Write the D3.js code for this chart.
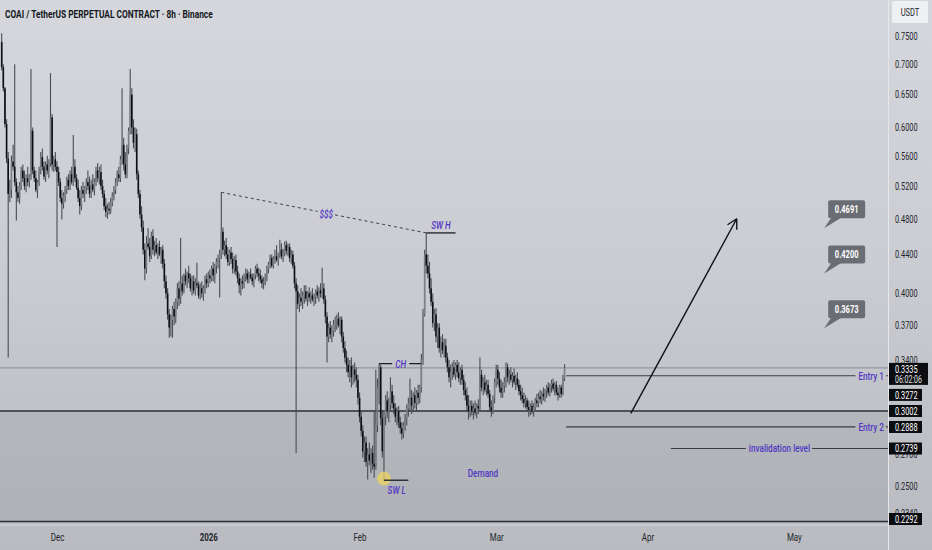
<!DOCTYPE html>
<html><head><meta charset="utf-8">
<script src="https://cdn.jsdelivr.net/npm/d3@7"></script>
<style>html,body{margin:0;padding:0;overflow:hidden;background:#c8cacf}</style>
</head><body>
<svg id="c" width="932" height="550"></svg>
<script>
// ---------------- DATA ----------------
const title = "COAI / TetherUS PERPETUAL CONTRACT · 8h · Binance";
const firstCandle = "2025-11-19T16:00:00Z";   // 8h candles
const open0 = 0.739;
const closes = [
.695,.660,.605,.556,.510,.515,.552,.545,.525,.512,.505,.520,.540,.530,.520,.530,.525,.532,.595,.540,
.530,.515,.525,.540,.558,.545,.532,.548,.540,.550,.615,.548,.555,.545,.538,.525,.505,.498,.508,.515,
.528,.520,.535,.525,.545,.530,.518,.505,.495,.515,.510,.518,.525,.520,.510,.522,.515,.525,.540,.530,
.538,.520,.510,.495,.488,.492,.490,.500,.508,.515,.525,.535,.530,.555,.575,.548,.535,.570,.595,.650,
.600,.578,.590,.535,.510,.485,.470,.445,.425,.452,.448,.438,.460,.445,.450,.442,.448,.440,.445,.430,
.412,.400,.380,.368,.375,.385,.378,.392,.405,.395,.410,.402,.418,.412,.420,.415,.405,.412,.403,.410,
.408,.398,.405,.400,.405,.414,.410,.418,.415,.425,.418,.428,.432,.436,.440,.465,.445,.450,.440,.432,
.442,.435,.425,.434,.422,.415,.408,.412,.410,.418,.420,.414,.419,.416,.412,.418,.425,.420,.418,.414,
.410,.412,.416,.425,.430,.436,.428,.435,.438,.434,.440,.445,.438,.442,.450,.444,.448,.436,.440,.428,
.410,.402,.390,.396,.392,.398,.402,.395,.400,.396,.398,.394,.397,.402,.398,.403,.400,.405,.394,.378,
.360,.368,.362,.365,.371,.374,.376,.370,.375,.360,.350,.342,.336,.330,.335,.326,.332,.328,.324,.310,
.296,.286,.272,.278,.265,.270,.266,.271,.264,.262,.290,.318,.334,.295,.272,.296,.308,.300,.305,.315,
.306,.302,.296,.300,.292,.288,.284,.290,.295,.302,.306,.310,.304,.312,.306,.314,.310,.318,.340,.380,
.440,.428,.420,.405,.392,.372,.380,.360,.368,.350,.355,.348,.352,.342,.334,.326,.330,.334,.328,.336,
.330,.325,.332,.324,.316,.312,.304,.300,.304,.300,.302,.299,.304,.302,.328,.318,.322,.316,.320,.313,
.303,.300,.310,.322,.332,.325,.318,.314,.319,.322,.334,.326,.328,.324,.327,.322,.325,.320,.315,.312,
.309,.306,.308,.303,.301,.304,.300,.303,.308,.306,.311,.309,.313,.311,.315,.318,.314,.319,.321,.317,
.320,.314,.312,.318,.313,.325,.3335];
const highs = [
.755,.700,.662,.612,.565,.528,.560,.575,.700,.530,.520,.525,.545,.548,.540,.535,.545,.535,.692,.600,
.545,.540,.528,.545,.565,.570,.552,.552,.560,.555,.685,.620,.560,.565,.552,.545,.530,.515,.512,.520,
.532,.535,.540,.545,.589,.555,.535,.528,.515,.520,.525,.520,.530,.540,.532,.528,.535,.530,.545,.550,
.545,.548,.528,.515,.505,.498,.500,.505,.512,.520,.530,.540,.545,.560,.660,.585,.565,.575,.600,.692,
.660,.612,.600,.598,.540,.515,.495,.478,.452,.460,.469,.458,.465,.468,.455,.458,.452,.455,.448,.450,
.435,.418,.405,.385,.380,.388,.392,.395,.410,.412,.458,.418,.420,.425,.422,.428,.420,.418,.418,.415,
.431,.412,.410,.412,.408,.418,.420,.422,.424,.428,.432,.430,.436,.440,.445,.512,.470,.455,.458,.448,
.445,.448,.442,.438,.440,.428,.420,.415,.418,.420,.425,.424,.422,.425,.420,.420,.428,.430,.426,.424,
.418,.416,.420,.428,.432,.440,.440,.438,.445,.450,.442,.456,.452,.446,.454,.455,.452,.452,.445,.444,
.432,.415,.408,.400,.405,.402,.408,.408,.402,.406,.402,.405,.400,.404,.408,.406,.410,.426,.410,.398,
.382,.372,.374,.370,.375,.378,.380,.382,.378,.378,.364,.356,.348,.342,.340,.342,.336,.338,.334,.328,
.314,.300,.290,.282,.282,.274,.278,.274,.276,.300,.332,.325,.337,.336,.300,.300,.312,.315,.310,.326,
.320,.312,.306,.303,.304,.296,.292,.292,.298,.305,.310,.325,.316,.314,.318,.316,.320,.320,.345,.385,
.445,.4637,.440,.432,.415,.400,.385,.386,.372,.372,.360,.362,.358,.358,.346,.340,.336,.338,.340,.338,
.340,.338,.334,.336,.328,.322,.318,.312,.308,.308,.306,.308,.306,.309,.342,.332,.326,.328,.324,.324,
.316,.308,.312,.325,.336,.336,.330,.324,.322,.326,.338,.337,.332,.334,.330,.333,.328,.330,.324,.320,
.318,.314,.312,.310,.308,.306,.308,.306,.310,.313,.314,.316,.315,.318,.317,.320,.322,.321,.324,.325,
.322,.323,.318,.320,.320,.328,.3365];
const lows = [
.690,.655,.600,.550,.342,.500,.505,.540,.520,.478,.500,.498,.515,.525,.515,.512,.520,.518,.528,.535,
.525,.512,.505,.520,.535,.540,.528,.525,.535,.530,.545,.540,.538,.540,.448,.520,.500,.479,.492,.500,
.510,.515,.515,.522,.520,.525,.515,.500,.485,.490,.505,.500,.510,.515,.505,.505,.512,.508,.520,.525,
.522,.515,.505,.490,.482,.480,.485,.486,.495,.502,.510,.520,.525,.525,.548,.540,.530,.530,.562,.590,
.590,.570,.565,.528,.505,.480,.465,.440,.413,.420,.445,.432,.435,.440,.438,.440,.435,.438,.430,.425,
.405,.395,.375,.359,.360,.359,.370,.372,.385,.388,.390,.398,.400,.408,.405,.410,.402,.398,.400,.398,
.405,.395,.394,.396,.393,.400,.405,.406,.410,.412,.412,.410,.420,.425,.396,.435,.440,.438,.435,.428,
.428,.430,.420,.420,.418,.410,.400,.398,.404,.405,.412,.410,.410,.414,.408,.406,.414,.416,.412,.410,
.405,.404,.408,.412,.420,.425,.426,.425,.430,.432,.428,.436,.435,.432,.438,.440,.438,.432,.430,.425,
.405,.271,.385,.382,.388,.385,.390,.392,.388,.392,.390,.392,.388,.390,.395,.392,.396,.395,.390,.372,
.338,.355,.358,.355,.360,.364,.366,.368,.362,.355,.346,.338,.330,.326,.322,.318,.320,.322,.318,.305,
.292,.282,.268,.265,.262,.254,.263,.258,.260,.255,.260,.285,.305,.290,.268,.2535,.290,.295,.292,.300,
.302,.298,.292,.290,.288,.284,.280,.281,.286,.290,.296,.300,.298,.300,.302,.300,.305,.306,.314,.336,
.378,.420,.415,.400,.388,.368,.365,.355,.350,.346,.342,.345,.342,.338,.330,.322,.318,.324,.326,.324,
.326,.322,.320,.320,.312,.308,.300,.294,.296,.297,.294,.297,.295,.298,.300,.315,.312,.314,.312,.310,
.300,.296,.298,.306,.318,.320,.314,.310,.310,.314,.318,.322,.320,.322,.318,.320,.316,.318,.312,.308,
.306,.303,.302,.300,.296,.297,.298,.296,.300,.303,.303,.306,.305,.308,.307,.310,.312,.311,.314,.315,
.312,.312,.308,.310,.310,.312,.323];

const priceTicks = [0.75,0.70,0.65,0.60,0.56,0.52,0.48,0.44,0.40,0.37,0.34,0.27,0.25,0.234];
const timeTickDates = ["2025-12-01","2026-01-01","2026-02-01","2026-03-01","2026-04-01","2026-05-01"];
const timeTickLabels = ["Dec","2026","Feb","Mar","Apr","May"];
const levelNames  = ["current","entry1","demandTop","entry2","invalidation","demandBottom"];
const levelPrices = [0.3335,0.3272,0.3002,0.2888,0.2739,0.2292];
const countdown = "06:02:06";
const targetPrices = [0.4691,0.4200,0.3673];
const targetDate = "2026-05-07T05:00:00Z";
const arrowFrom = ["2026-03-28T14:00:00Z",0.2985];
const arrowTo   = ["2026-04-19T07:00:00Z",0.480];
const invalidationStart = "2026-04-05T19:00:00Z";
const demandLabel = ["2026-02-26T07:00:00Z",0.2580];
const swingLowMark = 0.2545;

// ---------------- LAYOUT ----------------
const W=932,H=550, PR=888, PB=524;
const DAY=864e5, H8=8*3600e3;
const anchor=Date.UTC(2025,11,1), pxDay=4.88, anchorX=57;
const x=d3.scaleUtc().domain([new Date(anchor-anchorX/pxDay*DAY), new Date(anchor+(PR-anchorX)/pxDay*DAY)]).range([0,PR]);
const y=d3.scaleLog().domain([0.2278,0.8189]).range([PB,0]);
const t0=Date.parse(firstCandle);
const candles=closes.map((c,i)=>({t:new Date(t0+i*H8),o:i?closes[i-1]:open0,h:highs[i],l:lows[i],c}));
const tIdx=i=>new Date(t0+i*H8);

const svg=d3.select('#c');
const defs=svg.append('defs');
const grad=defs.append('linearGradient').attr('id','bg').attr('x1',0).attr('y1',0).attr('x2',0).attr('y2',1);
[[0,'#d5d7dc'],[0.5,'#caccd1'],[0.75,'#c0c2c7'],[1,'#b9bbc0']].forEach(([o,c])=>grad.append('stop').attr('offset',o).attr('stop-color',c));
defs.append('clipPath').attr('id','pc').append('rect').attr('width',PR).attr('height',PB);
svg.append('rect').attr('width',W).attr('height',H).attr('fill','url(#bg)');

const FONT='Roboto, "Noto Sans", sans-serif';
function txt(g,xx,yy,s,o={}){
  return g.append('text')
    .attr('transform',`translate(${xx},${yy}) scale(${o.sx??0.78},1)`)
    .attr('text-anchor',o.anchor||'start').attr('dominant-baseline','central')
    .attr('font-family',o.family||FONT).attr('font-size',o.size||10)
    .attr('font-weight',o.weight||400).attr('font-style',o.style||'normal')
    .attr('fill',o.fill||'#1f2229').text(s);
}
const PURPLE='#5237c4';
const AS=10.5, AW=500;
const plot=svg.append('g').attr('clip-path','url(#pc)');
const L=n=>levelPrices[levelNames.indexOf(n)];

// demand zone
plot.append('rect').attr('x',0).attr('width',PR)
  .attr('y',y(L('demandTop'))).attr('height',y(L('demandBottom'))-y(L('demandTop')))
  .attr('fill','#8f9197').attr('opacity',0.24);

// full-width lines
plot.append('line').attr('x1',0).attr('x2',PR).attr('y1',y(L('current'))).attr('y2',y(L('current'))).attr('stroke','#7b7e85').attr('stroke-width',0.8);
['demandTop','demandBottom'].forEach(n=>{
  plot.append('line').attr('x1',0).attr('x2',PR).attr('y1',y(L(n))).attr('y2',y(L(n))).attr('stroke','#2b2e35').attr('stroke-width',1.6);
});

// candles
const cg=plot.append('g');
cg.selectAll('line.w').data(candles).join('line').attr('class','w')
  .attr('x1',d=>x(d.t)).attr('x2',d=>x(d.t)).attr('y1',d=>y(d.h)).attr('y2',d=>y(d.l))
  .attr('stroke','#4a4d54').attr('stroke-width',1.1);
cg.selectAll('rect.b').data(candles).join('rect').attr('class','b')
  .attr('x',d=>x(d.t)-0.8).attr('width',1.6)
  .attr('y',d=>Math.min(y(d.o),y(d.c))).attr('height',d=>Math.max(0.9,Math.abs(y(d.o)-y(d.c))))
  .attr('fill',d=>d.c>=d.o?'#7c7f86':'#0e0f12');

// annotations
const ann=svg.append('g');
const hi=i=>candles[i].h;
// $$$ dashed liquidity line
(function(){
  const x1=x(tIdx(135)),y1=y(hi(135)),x2=x(tIdx(261)),y2=y(hi(261));
  const lerp=f=>[x1+(x2-x1)*f,y1+(y2-y1)*f];
  const a=lerp(0.47),b=lerp(0.555);
  ann.append('line').attr('x1',x1).attr('y1',y1).attr('x2',a[0]).attr('y2',a[1]).attr('stroke','#3e4149').attr('stroke-dasharray','3,3');
  ann.append('line').attr('x1',b[0]).attr('y1',b[1]).attr('x2',x2).attr('y2',y2).attr('stroke','#3e4149').attr('stroke-dasharray','3,3');
  const m=lerp(0.512);
  txt(ann,m[0],m[1]+1,'$$$',{anchor:'middle',fill:PURPLE,style:'italic',size:AS,weight:AW});
})();
// SW H
ann.append('line').attr('x1',x(tIdx(261))).attr('x2',x(tIdx(279))).attr('y1',y(hi(261))).attr('y2',y(hi(261))).attr('stroke','#1d1f24').attr('stroke-width',1.3);
txt(ann,(x(tIdx(261))+x(tIdx(279)))/2,y(hi(261))-8,'SW H',{anchor:'middle',fill:PURPLE,style:'italic',size:AS,weight:AW});
// CH
(function(){
  const x1=x(tIdx(232)),x2=x(tIdx(258)),yy=y(hi(232)),mx=(x1+x2)/2;
  ann.append('line').attr('x1',x1).attr('x2',mx-8).attr('y1',yy).attr('y2',yy).attr('stroke','#1d1f24').attr('stroke-width',1.3);
  ann.append('line').attr('x1',mx+9).attr('x2',x2).attr('y1',yy).attr('y2',yy).attr('stroke','#1d1f24').attr('stroke-width',1.3);
  txt(ann,mx+0.5,yy+0.5,'CH',{anchor:'middle',fill:PURPLE,style:'italic',size:AS,weight:AW});
})();
// SW L
ann.append('circle').attr('cx',x(tIdx(235))).attr('cy',y(swingLowMark)).attr('r',7).attr('fill','#ecd660').attr('opacity',0.75);
ann.append('line').attr('x1',x(tIdx(235))).attr('x2',x(tIdx(250))).attr('y1',y(lows[235])).attr('y2',y(lows[235])).attr('stroke','#1d1f24').attr('stroke-width',1.3);
txt(ann,(x(tIdx(235))+x(tIdx(250)))/2+0.5,y(lows[235])+9.5,'SW L',{anchor:'middle',fill:PURPLE,style:'italic',size:AS,weight:AW});
// Demand
txt(ann,x(new Date(demandLabel[0])),y(demandLabel[1]),'Demand',{anchor:'middle',fill:PURPLE,size:AS,weight:AW});

// Entry lines + invalidation
function levelLine(price,startX,label,labelMode){
  const yy=y(price);
  const t=txt(ann,0,yy,label,{fill:PURPLE,size:AS,weight:AW});
  const w=t.node().getBBox().width*0.78;
  let tx;
  if(labelMode==='right'){ tx=PR-4-w; } else { tx=(startX+PR)/2-w/2; }
  t.attr('transform',`translate(${tx},${yy}) scale(0.78,1)`);
  ann.append('line').attr('x1',startX).attr('x2',tx-3).attr('y1',yy).attr('y2',yy).attr('stroke','#3a3d44').attr('stroke-width',1.1);
  ann.append('line').attr('x1',tx+w+2).attr('x2',PR).attr('y1',yy).attr('y2',yy).attr('stroke','#3a3d44').attr('stroke-width',1.1);
}
const afterLast=x(new Date(t0+closes.length*H8));
levelLine(L('entry1'),afterLast,'Entry 1','right');
levelLine(L('entry2'),afterLast,'Entry 2','right');
levelLine(L('invalidation'),x(new Date(invalidationStart)),'invalidation level','mid');

// arrow
(function(){
  const ax1=x(new Date(arrowFrom[0])),ay1=y(arrowFrom[1]),ax2=x(new Date(arrowTo[0])),ay2=y(arrowTo[1]);
  ann.append('line').attr('x1',ax1).attr('y1',ay1).attr('x2',ax2).attr('y2',ay2).attr('stroke','#111216').attr('stroke-width',1.4);
  const ang=Math.atan2(ay1-ay2,ax1-ax2), len=11, sp=0.5;
  [ang-sp,ang+sp].forEach(a=>{
    ann.append('line').attr('x1',ax2).attr('y1',ay2).attr('x2',ax2+len*Math.cos(a)).attr('y2',ay2+len*Math.sin(a)).attr('stroke','#111216').attr('stroke-width',1.4);
  });
})();

// target callouts
targetPrices.forEach(p=>{
  const tx=x(new Date(targetDate)), ty=y(p);
  const bx=tx+4, bb=ty-10, bw=37, bh=18;
  ann.append('path').attr('d',`M${tx},${ty} L${bx+3},${bb-0.5} L${bx+13},${bb-0.5} Z`).attr('fill','#6a6d74');
  ann.append('rect').attr('x',bx).attr('y',bb-bh).attr('width',bw).attr('height',bh).attr('rx',2).attr('fill','#6a6d74');
  txt(ann,bx+bw/2,bb-bh/2,d3.format('.4f')(p),{anchor:'middle',fill:'#ffffff',size:10,weight:700,sx:0.75});
});

// ---------------- AXES ----------------
const ax=svg.append('g');
ax.append('line').attr('x1',PR+0.5).attr('x2',PR+0.5).attr('y1',0).attr('y2',H).attr('stroke','#e6e7ea').attr('stroke-width',1);
ax.append('line').attr('x1',0).attr('x2',PR).attr('y1',PB+1).attr('y2',PB+1).attr('stroke','#d6d8dc').attr('stroke-width',1.2);
// price scale via d3 axis
const yAxis=d3.axisRight(y).tickValues(priceTicks).tickFormat(d3.format('.4f')).tickSize(0).tickPadding(0);
const yg=ax.append('g').attr('transform',`translate(${PR+7},0)`).call(yAxis);
yg.select('.domain').remove();
yg.selectAll('text').attr('font-family',FONT).attr('font-size',10.5).attr('fill','#23262d')
  .attr('text-anchor','start').attr('dx',0).attr('x',0)
  .attr('transform','scale(0.7,1)');
// time axis
const xAxis=d3.axisBottom(x).tickValues(timeTickDates.map(d=>new Date(d+"T00:00:00Z"))).tickFormat((d,i)=>timeTickLabels[i]).tickSize(0).tickPadding(0);
const xg=ax.append('g').attr('transform',`translate(0,${PB+10})`).call(xAxis);
xg.select('.domain').remove();
xg.selectAll('.tick text').attr('font-family',FONT).attr('font-size',10.5).attr('fill','#23262d').attr('dy','0.71em')
  .attr('font-weight',(d,i)=>timeTickLabels[i]==='2026'?700:400)
  .attr('transform','scale(0.76,1)');

// USDT box
ax.append('rect').attr('x',892).attr('y',1).attr('width',36).attr('height',22).attr('rx',2).attr('fill','#eff0f3');
txt(ax,910,13,'USDT',{anchor:'middle',size:10.5,sx:0.72,fill:'#23262d'});

// price labels (black boxes) with overlap avoidance
(function(){
  const items=levelPrices.map((p,i)=>({p,name:levelNames[i],h:i===0?22:12}));
  items.sort((a,b)=>y(a.p)-y(b.p));
  let prevB=-1e9;
  items.forEach(it=>{
    let top=it.name==='current'?y(it.p)-5:y(it.p)-6;
    if(top<prevB+4) top=prevB+4;
    if(top+it.h>PB+1) top=PB+1-it.h;
    it.top=top; prevB=top+it.h;
    const w=it.name==='current'?39:33;
    ax.append('rect').attr('x',PR+1).attr('y',top).attr('width',w).attr('height',it.h).attr('fill','#0c0d10');
    txt(ax,PR+7,top+6.2,d3.format('.4f')(it.p),{size:10.5,sx:0.7,fill:'#ffffff'});
    if(it.name==='current') txt(ax,PR+7,top+16.5,countdown,{size:10,sx:0.7,fill:'#e0e1e4'});
  });
})();

// title
(function(){
  const t=txt(svg,5,14,title,{size:10.5,weight:700,sx:1,fill:'#131722'});
  const w=t.node().getComputedTextLength();
  t.attr('transform',`translate(5,14) scale(${208/w},1)`);
})();
</script>
</body></html>
